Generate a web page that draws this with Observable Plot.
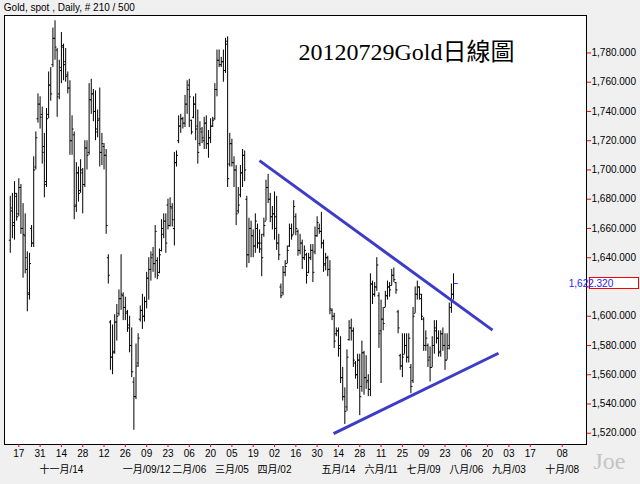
<!DOCTYPE html>
<html><head><meta charset="utf-8">
<script src="https://cdn.jsdelivr.net/npm/d3@7"></script>
<script src="https://cdn.jsdelivr.net/npm/@observablehq/plot@0.6"></script>
<style>
html,body{margin:0;padding:0;background:#f0f0f0;}
#chart{width:640px;height:484px;overflow:hidden;}
</style></head><body><div id="chart"></div>
<script>
const header = "Gold, spot , Daily, # 210 / 500";
const chartTitle = "20120729Gold日線圖";
const watermark = "Joe";
const firstDate = "2011-10-11";
const baseDate = "2011-10-17";

const open = [1652,1672,1664,1682,1670,1688,1660,1655,1632,1615,
1660,1650,1702,1735,1745,1738,1716,1692,1738,1758,
1772,1790,1782,1752,1768,1784,1774,1765,1756,1720,
1724,1676,1698,1686,1698,1690,1715,1712,1748,1752,
1740,1726,1735,1712,1716,1710,1640,1596,1572,1576,
1596,1602,1612,1614,1606,1603,1594,1580,1555,1545,
1568,1598,1604,1600,1610,1626,1632,1642,1636,1638,
1630,1645,1656,1665,1676,1662,1674,1660,1705,1720,
1730,1735,1732,1745,1758,1734,1736,1745,1730,1718,
1726,1720,1732,1718,1722,1730,1735,1755,1775,1772,
1774,1768,1788,1704,1718,1705,1700,1672,1683,1698,
1710,1680,1642,1660,1655,1648,1660,1650,1650,1656,
1665,1688,1680,1668,1670,1668,1650,1620,1616,1630,
1636,1648,1660,1656,1668,1658,1645,1650,1640,1642,
1630,1640,1645,1644,1655,1660,1658,1650,1636,1640,
1632,1604,1600,1588,1590,1580,1558,1545,1538,1584,
1592,1590,1568,1560,1570,1552,1575,1558,1556,1550,
1622,1615,1620,1614,1590,1598,1606,1614,1620,1621,
1628,1623,1603,1573,1566,1574,1580,1572,1565,1556,
1602,1615,1620,1612,1598,1580,1580,1572,1565,1580,
1590,1585,1576,1588,1580,1570,1580,1606,1615];
const high = [1682,1684,1692,1684,1694,1690,1677,1670,1644,1643,
1662,1709,1726,1752,1750,1743,1725,1742,1767,1770,
1797,1802,1783,1775,1794,1786,1783,1767,1761,1737,
1726,1705,1702,1707,1701,1720,1720,1759,1762,1755,
1754,1741,1756,1725,1718,1714,1642,1597,1594,1601,
1608,1618,1642,1616,1613,1604,1600,1592,1558,1581,
1588,1607,1615,1613,1630,1640,1644,1647,1662,1640,
1646,1666,1670,1670,1680,1681,1677,1712,1713,1737,
1738,1736,1751,1761,1762,1734,1750,1752,1741,1733,
1729,1736,1737,1727,1735,1736,1759,1782,1782,1777,
1782,1790,1791,1725,1721,1709,1703,1688,1703,1714,
1713,1682,1667,1665,1659,1670,1663,1659,1656,1667,
1693,1697,1684,1675,1685,1682,1656,1622,1634,1638,
1648,1663,1663,1679,1670,1659,1656,1652,1648,1643,
1643,1649,1649,1661,1668,1663,1671,1652,1643,1641,
1638,1605,1602,1592,1592,1586,1565,1551,1577,1597,
1598,1592,1569,1574,1574,1583,1576,1573,1560,1629,
1624,1623,1640,1616,1611,1606,1617,1624,1623,1632,
1633,1623,1604,1574,1588,1588,1588,1588,1567,1606,
1620,1624,1620,1615,1599,1590,1581,1579,1586,1597,
1597,1590,1590,1592,1588,1588,1609,1622,1629];
const low = [1643,1653,1652,1665,1668,1656,1626,1629,1603,1611,
1647,1647,1700,1732,1728,1704,1681,1688,1735,1747,
1770,1775,1736,1748,1759,1761,1760,1752,1710,1710,
1666,1671,1678,1684,1670,1688,1700,1710,1738,1733,
1720,1722,1702,1703,1700,1656,1622,1563,1560,1574,
1583,1600,1604,1597,1597,1589,1575,1558,1522,1543,
1565,1596,1591,1596,1605,1611,1624,1630,1626,1625,
1629,1644,1653,1643,1659,1661,1661,1648,1702,1718,
1725,1728,1729,1738,1729,1724,1735,1720,1704,1716,
1718,1714,1714,1708,1718,1729,1734,1750,1770,1770,
1760,1766,1688,1702,1702,1688,1662,1670,1681,1688,
1692,1633,1636,1640,1640,1643,1646,1643,1627,1654,
1665,1677,1664,1659,1652,1645,1638,1612,1614,1627,
1636,1647,1652,1656,1655,1641,1642,1632,1638,1622,
1629,1638,1623,1642,1654,1656,1646,1630,1631,1627,
1601,1597,1578,1586,1572,1554,1542,1526,1535,1583,
1583,1565,1557,1550,1532,1548,1546,1550,1545,1545,
1608,1613,1617,1578,1554,1590,1606,1611,1613,1621,
1623,1615,1588,1563,1558,1574,1568,1568,1547,1554,
1602,1611,1611,1597,1576,1576,1565,1555,1565,1574,
1581,1572,1572,1576,1563,1570,1577,1602,1611];
const close = [1674,1662,1684,1668,1688,1660,1656,1640,1616,1636,
1650,1700,1722,1745,1736,1712,1690,1735,1758,1752,
1790,1784,1750,1770,1785,1772,1764,1756,1720,1728,
1675,1698,1684,1700,1690,1715,1710,1748,1752,1740,
1728,1734,1712,1718,1710,1662,1628,1572,1575,1596,
1600,1612,1615,1606,1602,1592,1580,1562,1545,1566,
1585,1604,1600,1610,1626,1632,1640,1636,1658,1628,
1642,1660,1665,1650,1662,1675,1666,1705,1710,1730,
1735,1732,1745,1755,1750,1726,1745,1728,1712,1728,
1722,1732,1718,1722,1730,1734,1755,1775,1772,1774,
1768,1786,1694,1718,1705,1700,1670,1676,1698,1710,
1700,1642,1660,1655,1648,1665,1650,1646,1640,1662,
1688,1680,1668,1670,1660,1650,1642,1614,1630,1634,
1645,1660,1655,1675,1660,1645,1650,1640,1645,1628,
1640,1645,1630,1655,1664,1658,1650,1635,1640,1632,
1605,1600,1583,1590,1578,1558,1545,1535,1572,1592,
1590,1570,1560,1570,1545,1575,1558,1555,1550,1622,
1615,1620,1635,1588,1598,1595,1614,1620,1618,1628,
1625,1618,1592,1566,1572,1580,1572,1585,1552,1600,
1615,1620,1615,1600,1580,1585,1570,1565,1580,1592,
1585,1575,1588,1580,1570,1578,1606,1615,1622.32];

const tickDates = ["2011-10-17","2011-10-31","2011-11-14","2011-11-28","2011-12-12","2011-12-26",
"2012-01-09","2012-01-23","2012-02-06","2012-02-20","2012-03-05","2012-03-19","2012-04-02",
"2012-04-16","2012-04-30","2012-05-14","2012-05-28","2012-06-11","2012-06-25","2012-07-09",
"2012-07-23","2012-08-06","2012-08-20","2012-09-03","2012-09-17","2012-10-08"];
const monthDates = ["2011-11-14","2012-01-09","2012-02-06","2012-03-05","2012-04-02","2012-05-14",
"2012-06-11","2012-07-09","2012-08-06","2012-09-03","2012-10-08"];
const monthLabels = ["十一月/14","一月/09/12","二月/06","三月/05","四月/02","五月/14",
"六月/11","七月/09","八月/06","九月/03","十月/08"];
const yTicks = [1520,1540,1560,1580,1600,1620,1640,1660,1680,1700,1720,1740,1760,1780];
// trend lines in trading-day index / price units
const trendLines = [
  {x1: 112.95, y1: 1706.4, x2: 222.3, y2: 1590.5},
  {x1: 147.7, y1: 1519.7, x2: 225.1, y2: 1574.7}
];

function isWeekday(t){const w=t.getUTCDay();return w>0&&w<6;}
function wdIndex(s){
  const base=new Date(baseDate), d=new Date(s); let n=0;
  if(d>=base){for(let t=new Date(base);t<d;t.setUTCDate(t.getUTCDate()+1)) if(isWeekday(t)) n++;}
  else {for(let t=new Date(d);t<base;t.setUTCDate(t.getUTCDate()+1)) if(isWeekday(t)) n--;}
  return n;
}
const startIdx = wdIndex(firstDate);
const bars = open.map((o,k)=>({x:startIdx+k, open:o, high:high[k], low:low[k], close:close[k]}));
const ticks = tickDates.map(s=>({x:wdIndex(s), label:s.slice(8,10)}));
const months = monthDates.map((s,k)=>({x:wdIndex(s), label:monthLabels[k]}));
const last = bars[bars.length-1];
const fmt = d3.format(",.3f");
const sans = "'Liberation Sans', Arial, 'Noto Sans CJK TC', sans-serif";
const serif = "'Liberation Serif', 'Times New Roman', 'Noto Sans CJK TC', serif";
const tw = 0.7;
// the label nearest the last price is covered by the last-price box
const coveredTick = yTicks.reduce((a, b) => Math.abs(b - last.close) < Math.abs(a - last.close) ? b : a);
const yLabels = yTicks.filter(t => t !== coveredTick);

const plot = Plot.plot({
  width: 640, height: 484,
  marginTop: 15, marginBottom: 40, marginLeft: 4, marginRight: 54,
  style: {background: "#f0f0f0", fontFamily: sans, fontSize: "10px", color: "black"},
  x: {domain: [-6.71, 266.4], axis: null},
  y: {domain: [1512.3, 1805.6], axis: null},
  marks: [
    Plot.frame({fill: "white", stroke: "black"}),
    Plot.ruleX(bars, {x: "x", y1: "low", y2: "high", stroke: "black", strokeWidth: 1}),
    Plot.link(bars, {x1: d => d.x - tw, x2: "x", y1: "open", y2: "open", stroke: "black"}),
    Plot.link(bars.slice(0, -1), {x1: "x", x2: d => d.x + tw, y1: "close", y2: "close", stroke: "black"}),
    Plot.link([last], {x1: "x", x2: d => d.x + 2, y1: "close", y2: "close", stroke: "#2020ff"}),
    Plot.link(trendLines, {x1: "x1", y1: "y1", x2: "x2", y2: "y2", stroke: "#3c3cc8", strokeWidth: 3}),
    Plot.axisY(yTicks, {anchor: "right", tickSize: 4, stroke: "red", tickFormat: () => ""}),
    Plot.text(yLabels, {y: d => d, text: d => fmt(d), frameAnchor: "right", textAnchor: "start", dx: 5, fill: "black", fontSize: 10}),
    Plot.axisX(ticks.map(t => t.x), {anchor: "bottom", tickSize: 3, stroke: "red", tickFormat: () => ""}),
    Plot.text(ticks, {x: "x", text: "label", frameAnchor: "bottom", dy: 12, fill: "black", fontSize: 10}),
    Plot.text(months, {x: "x", text: "label", frameAnchor: "bottom", dy: 28, fill: "black", fontSize: 10}),
    Plot.text([header], {text: d => d, frameAnchor: "top-left", textAnchor: "start", lineAnchor: "bottom", dx: -0.7, dy: -5, fill: "black", fontSize: 10}),
    Plot.text([chartTitle], {text: d => d, frameAnchor: "top-left", textAnchor: "start", lineAnchor: "bottom", dx: 294, dy: 44.3, fill: "black", fontSize: 24, fontFamily: serif}),
    Plot.text([watermark], {text: d => d, frameAnchor: "bottom-right", textAnchor: "start", lineAnchor: "bottom", dx: 7, dy: 24, fill: "#c4c4c4", fontSize: 24, fontFamily: serif})
  ]
});
document.getElementById("chart").appendChild(plot);

// last price label box, positioned through the y scale
const ys = plot.scale("y").apply(last.close);
const svg = d3.select(plot);
const xr = 640 - 54;
svg.append("rect").attr("x", xr + 3.5).attr("y", Math.round(ys) - 5.5).attr("width", 49).attr("height", 11)
  .attr("fill", "white").attr("stroke", "red").attr("stroke-width", 1);
svg.append("text").attr("x", xr + 5).attr("y", ys).attr("dy", "0.35em").attr("fill", "#2020ff")
  .attr("font-size", 10).attr("font-family", sans).text(fmt(last.close));
</script></body></html>
